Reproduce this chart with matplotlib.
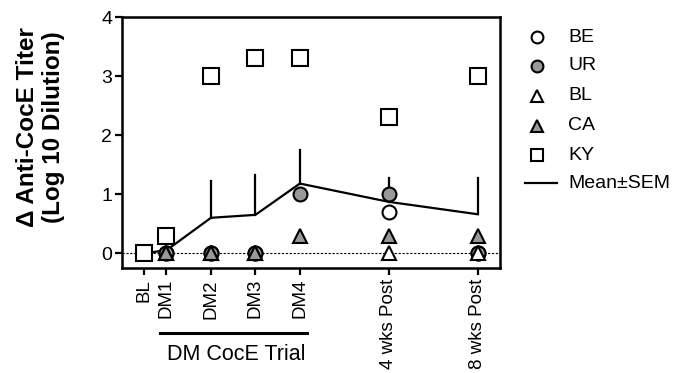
import matplotlib
matplotlib.use("Agg")
import matplotlib.pyplot as plt
import numpy as np
from matplotlib.lines import Line2D

plt.rcParams["font.family"] = ["Liberation Sans", "DejaVu Sans"]

# time points (x positions in trial units) and their tick labels
time_x = [-0.5, 0, 1, 2, 3, 5, 7]
time_labels = ["BL", "DM1", "DM2", "DM3", "DM4", "4 wks Post", "8 wks Post"]

# per-subject titer change (log10 dilution); nan = not measured
nan = np.nan
be = [nan, 0, 0, 0, nan, 0.7, 0]
ur = [nan, 0, 0, 0, 1.0, 1.0, 0]
bl = [nan, 0, 0, 0, nan, 0, 0]
ca = [nan, 0, 0, 0, 0.3, 0.3, 0.3]
ky = [0, 0.3, 3.0, 3.3, 3.3, 2.3, 3.0]

mean_vals = [0, 0.05, 0.6, 0.65, 1.18, 0.87, 0.66]
sem_vals = [0, 0, 0.62, 0.68, 0.57, 0.40, 0.61]

series_names = ["BE", "UR", "BL", "CA", "KY"]
series_markers = ["o", "o", "^", "^", "s"]
series_faces = ["white", "#999999", "white", "#999999", "white"]

fig = plt.figure(figsize=(6.75, 3.73), dpi=100)
ax = fig.add_axes([122 / 675, 1 - 268 / 373, (500 - 122) / 675, (268 - 17) / 373])

ax.axhline(0, color="black", lw=0.8, ls=(0, (2, 1.5)), zorder=1)

ax.plot(time_x, mean_vals, color="black", lw=1.6, zorder=2)
for x, m, s in zip(time_x, mean_vals, sem_vals):
    if s > 0:
        ax.plot([x, x], [m, m + s], color="black", lw=1.6, zorder=2)

mk = dict(linestyle="none", markeredgecolor="black", markeredgewidth=1.5, zorder=3)
sizes = {"o": 10, "^": 9.5, "s": 11}
draw_order = [4, 0, 1, 2, 3]
all_series = [be, ur, bl, ca, ky]
for i in draw_order:
    m = series_markers[i]
    ax.plot(time_x, all_series[i], marker=m, markersize=sizes[m],
            markerfacecolor=series_faces[i], **mk)

ax.set_xlim(-1.0, 7.5)
ax.set_ylim(-0.25, 4)
ax.set_yticks([0, 1, 2, 3, 4])
ax.set_xticks(time_x)
ax.set_xticklabels(time_labels, rotation=90, fontsize=13.5, va="top")
ax.tick_params(axis="y", labelsize=14, width=1.6, length=5, pad=2)
ax.tick_params(axis="x", width=1.6, length=5, pad=3)
for sp in ax.spines.values():
    sp.set_linewidth(1.8)

ax.set_ylabel("\u0394 Anti-CocE Titer\n(Log 10 Dilution)", fontsize=17.5,
              fontweight="bold", linespacing=1.2)
ax.yaxis.set_label_coords(-0.15, 0.56)

# bracket under DM1..DM4
fig.add_artist(Line2D([160 / 675, 307 / 675], [1 - 333 / 373] * 2,
                      color="black", lw=2.2))
fig.text(236 / 675, 1 - 355 / 373, "DM CocE Trial", ha="center", va="center",
         fontsize=15.5)

# legend drawn by hand to match the row spacing
row_y = [37, 66, 96, 126, 155]
for name, m, face, y in zip(series_names, series_markers, series_faces, row_y):
    fig.add_artist(Line2D([537 / 675], [1 - y / 373], marker=m, markersize=8.5,
                          markerfacecolor=face, **mk))
    fig.text(568 / 675, 1 - y / 373, name, ha="left", va="center", fontsize=14)
fig.add_artist(Line2D([525 / 675, 557 / 675], [1 - 183 / 373] * 2,
                      color="black", lw=1.6))
fig.text(568 / 675, 1 - 183 / 373, "Mean\u00b1SEM", ha="left", va="center",
         fontsize=14)

fig.savefig("out.png", dpi=100)
